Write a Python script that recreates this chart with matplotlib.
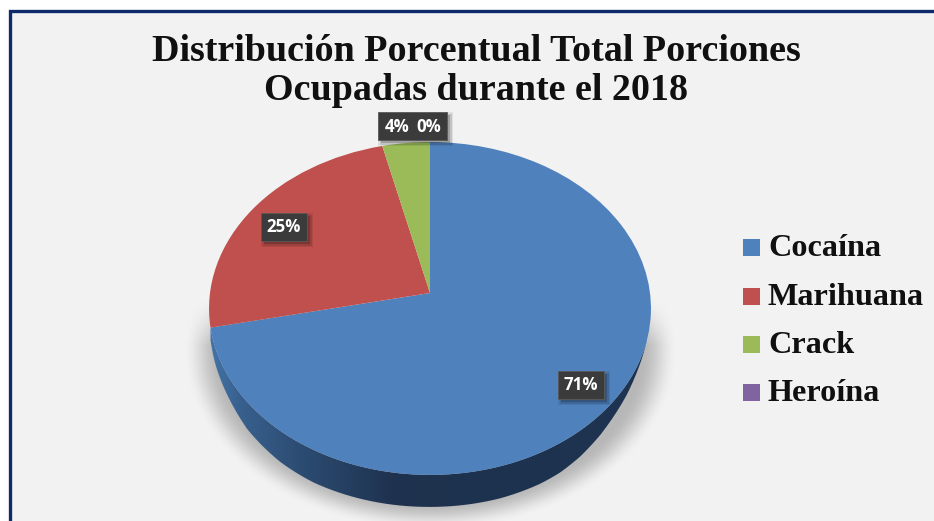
import numpy as np
import matplotlib
matplotlib.use("Agg")
import matplotlib.pyplot as plt
from matplotlib.patches import Rectangle, PathPatch
from matplotlib.path import Path
from matplotlib.transforms import Transform

categories = ["Cocaína", "Marihuana", "Crack", "Heroína"]
values = [71.7, 24.5, 3.8, 0]
pct_labels = ["71%", "25%", "4%", "0%"]
colors = ["#4f81bd", "#c0504d", "#9bbb59", "#8064a2"]
title = "Distribución Porcentual Total Porciones\nOcupadas durante el 2018"

# pie apex and perspective, measured in pixels
CX, CY = 430.0, 293.0
RX, RY, K = 220.0, 165.0, 0.093

# thickness of the pie side against x, it thins out on the right
depth_x = [205, 215, 247, 280, 313, 427, 500, 540, 560, 580, 600, 627, 647]
depth_px = [8, 16, 27, 31, 32.5, 32, 32, 31, 29.5, 26, 20.5, 10.5, 0]


class TiltTransform(Transform):
    # unit pie coordinates to pixels, bottom of the pie nearer to the viewer
    input_dims = output_dims = 2

    def transform_non_affine(self, xy):
        xy = np.asarray(xy, dtype=float)
        w = 1 + K * xy[:, 1]
        return np.column_stack([CX + RX * xy[:, 0] / w, CY - RY * xy[:, 1] / w])


fig = plt.figure(figsize=(9.34, 5.21), dpi=100, facecolor="white")
ax = fig.add_axes([0, 0, 1, 1])

wedges, _ = ax.pie(values, colors=colors, startangle=90, counterclock=False, frame=True)
tilt = TiltTransform()
for w in wedges:
    w.set_transform(tilt + ax.transData)
    w.set_zorder(5)

ax.axis("off")

# panel and frame
ax.add_patch(Rectangle((9.5, 10.5), 940, 530, fc="#f2f2f2", ec="#0d2a6b", lw=2.4, zorder=0))

# soft shadow under the pie
yy, xx = np.mgrid[290:521, 170:700]
dist = np.hypot((xx - 430) / 247.0, (yy - 350) / 180.0)
shade = np.clip((1.0 - dist) / 0.15, 0, 1)
shade = shade * shade * (3 - 2 * shade)
shade = shade * np.clip((yy - 300) / 45.0, 0, 1)
rgba = np.zeros(shade.shape + (4,))
rgba[..., :3] = 0.72
rgba[..., 3] = shade
ax.imshow(rgba, extent=(170, 700, 521, 290), aspect="auto", zorder=1, interpolation="bilinear")

# side of the pie, below the blue slice
start = np.pi / 2 - 2 * np.pi * values[0] / sum(values)
t = np.linspace(start, 0, 300)
rim = tilt.transform(np.column_stack([np.cos(t), np.sin(t)]))
keep = np.ones(len(t), dtype=bool)
keep[t > -np.pi / 2] = rim[t > -np.pi / 2, 0] < 647
keep &= rim[:, 1] > CY
rim = rim[keep]
low = rim + np.column_stack([np.zeros(len(rim)), np.interp(rim[:, 0], depth_x, depth_px)])
side = Path(np.vstack([rim, low[::-1], rim[:1]]))
side_patch = PathPatch(side, fc="none", ec="none", zorder=3)
ax.add_patch(side_patch)
stops_x = [209, 240, 300, 390, 450, 560, 652]
stops_r = [0x45, 0x38, 0x2c, 0x1f, 0x1e, 0x1d, 0x1d]
stops_g = [0x74, 0x60, 0x4c, 0x33, 0x32, 0x33, 0x33]
stops_b = [0xa8, 0x8e, 0x72, 0x50, 0x4e, 0x50, 0x50]
gx = np.arange(205, 656)
grad = np.column_stack([np.interp(gx, stops_x, c) for c in (stops_r, stops_g, stops_b)]) / 255.0
im = ax.imshow(grad[None, :, :], extent=(205, 656, 521, 300), aspect="auto", zorder=3)
im.set_clip_path(side_patch)

ax.set_aspect("auto")
ax.set_xlim(0, 934)
ax.set_ylim(521, 0)

ax.text(476, 71, title, ha="center", va="center", fontsize=27.4, fontweight="bold",
        family="Liberation Serif", color="#101010", linespacing=1.15, zorder=6)

# value labels
label_pos = [(581, 385), (284, 227), (397, 127), (429, 127)]
boxes = [(558, 371, 46), (261, 213, 46), (378, 112, 69)]
for x, y, w in boxes:
    for grow, a in ((3, 0.08), (1.5, 0.12), (0, 0.18)):
        ax.add_patch(Rectangle((x + 3 - grow, y + 3 - grow), w + 2 * grow, 28 + 2 * grow,
                               fc="black", ec="none", alpha=a, zorder=6))
    ax.add_patch(Rectangle((x, y), w, 28, fc="#3b3b3b", ec="#5a5a5a", lw=0.6, zorder=7))
for (x, y), lab in zip(label_pos, pct_labels):
    ax.text(x, y, lab, ha="center", va="center", fontsize=12.2, fontweight="bold",
            family="Open Sans", color="white", zorder=8)

# legend
legend_y = [247, 296, 344, 392]
for name, col, y in zip(categories, colors, legend_y):
    ax.add_patch(Rectangle((743, y - 8.5), 17, 17, fc=col, ec="none", zorder=6))
    ax.text(768, y + 1.5, name, ha="left", va="center", fontsize=23.2, fontweight="bold",
            family="Liberation Serif", color="#101010", zorder=6)

fig.savefig("out.png", dpi=100, facecolor="white")
